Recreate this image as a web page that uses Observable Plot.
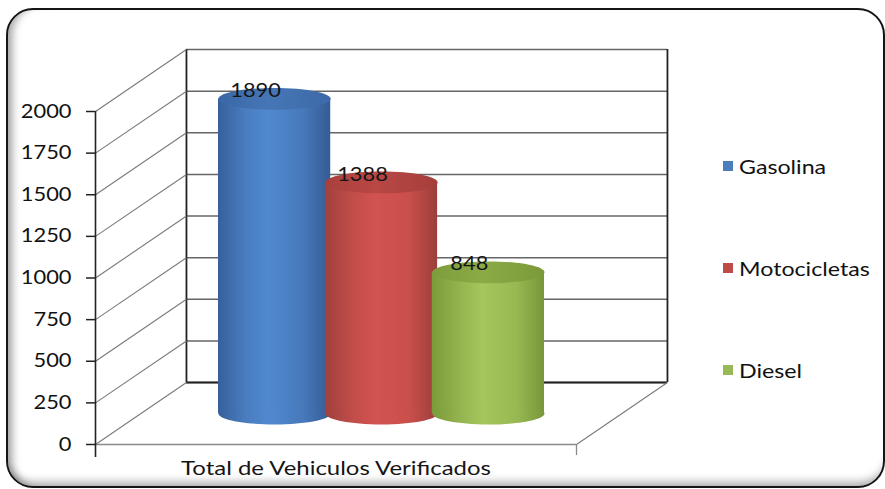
<!DOCTYPE html>
<html>
<head>
<meta charset="utf-8">
<script src="https://cdn.jsdelivr.net/npm/d3@7"></script>
<script src="https://cdn.jsdelivr.net/npm/@observablehq/plot@0.6"></script>
<style>
  html, body { margin: 0; padding: 0; background: #fff; }
  #wrap { position: relative; width: 885px; height: 489px; overflow: hidden; background: #fff; font-family: Lato, "Open Sans", sans-serif; }
  #chart { position: absolute; left: 0; top: 0; }
  #frame {
    position: absolute; left: 6px; top: 8px; width: 879px; height: 480px; box-sizing: border-box;
    border: 2.5px solid #151515; border-radius: 27px; pointer-events: none;
    box-shadow: inset 11px 0 9px -7px rgba(0,0,0,0.38), inset 0 -11px 9px -7px rgba(0,0,0,0.32);
  }
  #legend { position: absolute; left: 723px; top: 154px; }
  .item { display: flex; align-items: center; height: 24px; margin-bottom: 78px; font-size: 20px; color: #111; }
  .sw { width: 10px; height: 10px; margin-right: 6px; }
  .item span { display: inline-block; transform: scaleX(1.16); transform-origin: left center; }
</style>
</head>
<body>
<div id="wrap">
  <div id="chart"></div>
  <div id="frame"></div>
  <div id="legend"></div>
</div>
<script>
// ---- data ----
const categories = ["Total de Vehiculos Verificados"];
const series = ["Gasolina", "Motocicletas", "Diesel"];
const values = [1890, 1388, 848];
const yTicks = [0, 250, 500, 750, 1000, 1250, 1500, 1750, 2000];

// ---- style ----
const bodyStops = [
  ["#36609c", "#4a7dc0", "#5189d0", "#4779bb", "#345c96"],
  ["#a0403d", "#c24d49", "#d2534f", "#c94f4b", "#9c3e3b"],
  ["#7b9a39", "#94b44f", "#a5c65c", "#98b952", "#78963a"]
];
const topStops = [
  ["#3a67a5", "#4676b6", "#3d6aa8"],
  ["#a9403d", "#b94744", "#a53f3c"],
  ["#7e9c3c", "#8aab46", "#7b993a"]
];
const legendColors = ["#4a7ebb", "#be4b48", "#98b954"];

// 3D projection: x in bar-width units (Excel gap width 150%), depth offsets
const nBars = series.length;
const gap = 1.5;                  // gap width relative to bar width
const xMax = nBars + gap;         // category extent in bar units
const DX = 0.851;                 // back-wall x offset (bar units)
const DY = 372;                   // back-wall y offset (value units)
const cylW = 1.05;                // cylinder width relative to slot
const rows = series.map((s, i) => ({
  series: s, value: values[i], u: gap / 2 + i + 0.5
}));

const font = "Lato, 'Open Sans', sans-serif";

function ellipseSymbol(ratio) {
  return {
    draw(ctx, size) {
      const rx = Math.sqrt(size / Math.PI), ry = rx * ratio, k = 0.5523;
      ctx.moveTo(rx, 0);
      ctx.bezierCurveTo(rx, ry * k, rx * k, ry, 0, ry);
      ctx.bezierCurveTo(-rx * k, ry, -rx, ry * k, -rx, 0);
      ctx.bezierCurveTo(-rx, -ry * k, -rx * k, -ry, 0, -ry);
      ctx.bezierCurveTo(rx * k, -ry, rx, -ry * k, rx, 0);
      ctx.closePath();
    }
  };
}

const width = 885, height = 489;
const marginLeft = 95, marginRight = 309, marginTop = 111, marginBottom = 45;
const pxPerUnit = (width - marginLeft - marginRight) / xMax;
const rx = pxPerUnit * cylW / 2;
const ell = ellipseSymbol(0.195);

const cylMarks = [];
rows.forEach((d, i) => {
  const data = [d];
  cylMarks.push(
    Plot.rect(data, {
      x1: r => r.u - cylW / 2 + DX / 2, x2: r => r.u + cylW / 2 + DX / 2,
      y1: DY / 2, y2: r => r.value + DY / 2,
      fill: `url(#body${i})`
    }),
    Plot.dot(data, {
      x: r => r.u + DX / 2, y: DY / 2, r: rx, symbol: ell,
      fill: `url(#body${i})`, stroke: "none"
    }),
    Plot.dot(data, {
      x: r => r.u + DX / 2, y: r => r.value + DY / 2, r: rx, symbol: ell,
      fill: `url(#top${i})`, stroke: "none"
    })
  );
});

const svg = Plot.plot({
  width, height, marginLeft, marginRight, marginTop, marginBottom,
  style: { fontFamily: font, fontSize: "19px", color: "#111", background: "transparent" },
  x: { domain: [0, xMax], axis: null },
  y: { domain: [0, 2000], ticks: yTicks, tickFormat: d => String(d), tickSize: 9, tickPadding: 15, label: null },
  marks: [
    // back wall gridlines
    Plot.ruleY(yTicks, { y: d => d + DY, x1: DX, x2: xMax + DX, stroke: "#666", strokeWidth: 1.4 }),
    // back wall bottom + sides
    Plot.ruleY([0], { y: d => d + DY, x1: DX, x2: xMax + DX, stroke: "#222", strokeWidth: 2 }),
    Plot.ruleX([DX, xMax + DX], { y1: 2000 + DY, y2: DY, stroke: "#222", strokeWidth: 1.8 }),
    // side wall diagonals
    Plot.link(yTicks, { x1: 0, y1: d => d, x2: DX, y2: d => d + DY, stroke: "#7a7a7a", strokeWidth: 1.1 }),
    // floor right edge
    Plot.link([0], { x1: xMax, y1: d => d, x2: xMax + DX, y2: d => d + DY, stroke: "#7a7a7a", strokeWidth: 1.1 }),
    // floor front edge
    Plot.ruleY([0], { x1: 0, x2: xMax, stroke: "#8a8a8a", strokeWidth: 1.3 }),
    Plot.ruleX([xMax], { y1: 0, y2: 0, insetBottom: -11, stroke: "#8a8a8a", strokeWidth: 1.3 }),
    // value axis line
    Plot.ruleX([0], { y1: 2000, y2: 0, insetBottom: -13, stroke: "#222", strokeWidth: 1.6 }),
    ...cylMarks,
    // value labels
    Plot.text(rows, {
      x: r => r.u + DX / 2, y: r => r.value + DY / 2, text: r => String(r.value),
      dx: -19, dy: -8, fontSize: 19, fill: "#151515"
    }),
    // category label
    Plot.text(categories, { x: xMax / 2, y: 0, text: d => d, dy: 24, fontSize: 19, fill: "#151515" })
  ]
});

// gradients
const defs = d3.select(svg).insert("defs", ":first-child");
bodyStops.forEach((stops, i) => {
  const g = defs.append("linearGradient").attr("id", `body${i}`).attr("x1", 0).attr("x2", 1).attr("y1", 0).attr("y2", 0);
  const offs = [0, 0.25, 0.45, 0.75, 1];
  stops.forEach((c, j) => g.append("stop").attr("offset", offs[j]).attr("stop-color", c));
});
topStops.forEach((stops, i) => {
  const g = defs.append("linearGradient").attr("id", `top${i}`).attr("x1", 0).attr("x2", 1).attr("y1", 0).attr("y2", 0);
  const offs = [0, 0.45, 1];
  stops.forEach((c, j) => g.append("stop").attr("offset", offs[j]).attr("stop-color", c));
});
d3.select(svg).selectAll("g[aria-label='y-axis tick'] path, g[aria-label='y-axis tick'] line").attr("stroke", "#222").attr("stroke-width", 1.5);

document.getElementById("chart").appendChild(svg);

// widen text to match the reference's stretched Calibri look
d3.select(svg).selectAll("text").each(function () {
  const isCat = categories.includes(this.textContent);
  const f = isCat ? 1.26 : 1.15;
  const w = this.getComputedTextLength();
  if (w > 0) {
    this.setAttribute("textLength", (w * f).toFixed(1));
    this.setAttribute("lengthAdjust", "spacingAndGlyphs");
  }
});

// legend
const legend = d3.select("#legend");
series.forEach((s, i) => {
  const it = legend.append("div").attr("class", "item");
  it.append("div").attr("class", "sw").style("background", legendColors[i]);
  it.append("span").text(s);
});
</script>
</body>
</html>
